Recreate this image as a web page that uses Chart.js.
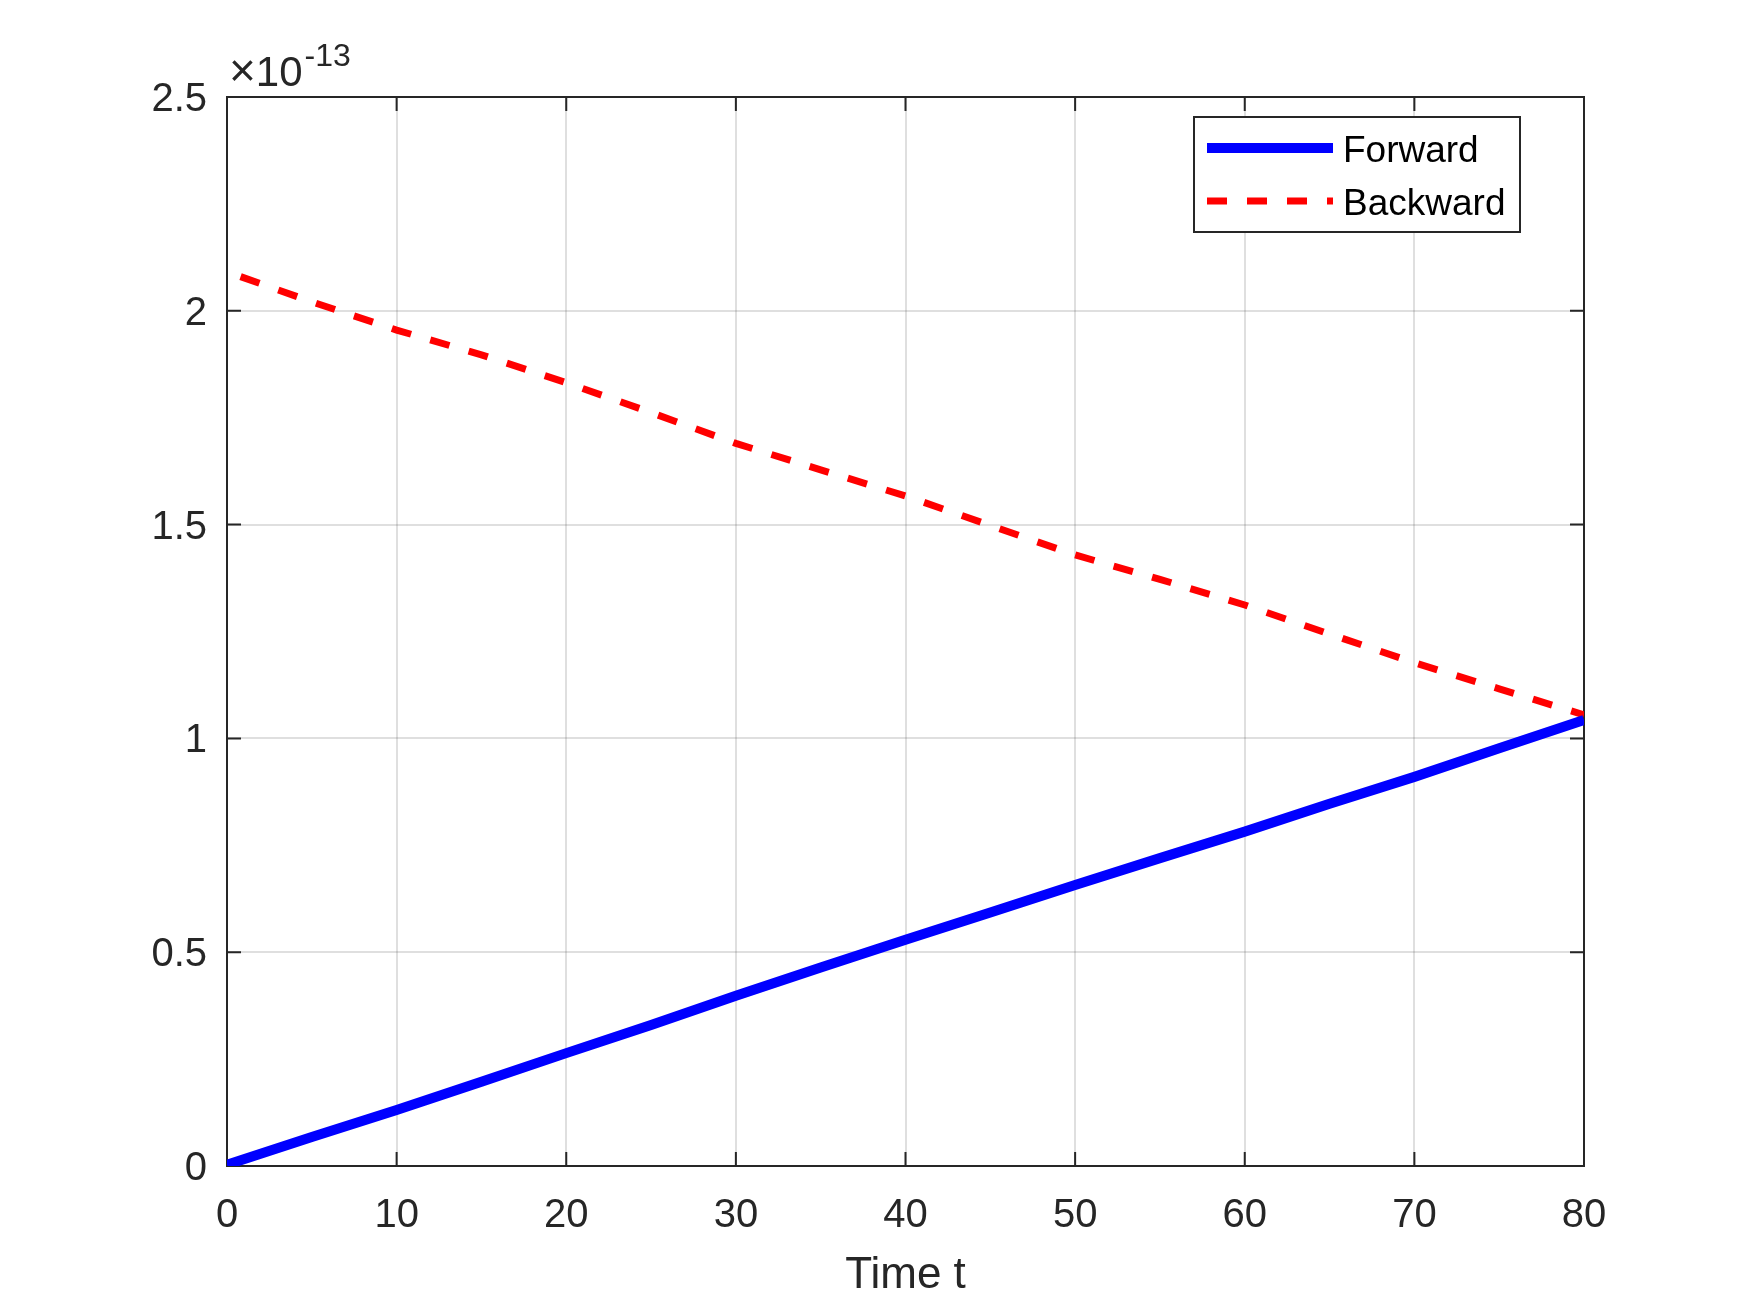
<!DOCTYPE html>
<html>
<head>
<meta charset="utf-8">
<title>Forward / Backward</title>
<script src="https://cdn.jsdelivr.net/npm/chart.js@4.4.1/dist/chart.umd.min.js"></script>
<style>
    html, body { margin: 0; padding: 0; background: #fff; }
    canvas { display: block; }
</style>
</head>
<body>
<canvas id="chart" width="1750" height="1289"></canvas>
<script>
// values in units of 1e-13
const tForward = [0, 5, 10, 15, 20, 25, 30, 35, 40, 45, 50, 55, 60, 65, 70, 75, 80]
const forward = [0.003, 0.068, 0.131, 0.197, 0.264, 0.330, 0.398, 0.464, 0.529, 0.593, 0.657, 0.720, 0.782, 0.847, 0.910, 0.977, 1.043]

const tBackward = [0.8, 5, 10, 15, 20, 25, 30, 35, 40, 45, 50, 55, 60, 65, 70, 75, 80]
const backward = [2.080, 2.021, 1.955, 1.897, 1.832, 1.762, 1.690, 1.628, 1.567, 1.498, 1.429, 1.372, 1.312, 1.244, 1.177, 1.116, 1.055]

const xTicks = [0, 10, 20, 30, 40, 50, 60, 70, 80]
const yTicks = [0, 0.5, 1, 1.5, 2, 2.5]
const exponent = '-13'

const FONT = '"Liberation Sans", Arial, Helvetica, sans-serif'
const AXIS = '#262626'
const GRID = 'rgba(38,38,38,0.15)'

const points = (ts, ys) => ts.map((t, i) => ({ x: t, y: ys[i] }))

// matlab style box with inward ticks, drawn under the lines
const boxPlugin = {
    id: 'box',
    beforeDatasetsDraw: chart => {
        const { ctx, chartArea: a, scales: { x, y } } = chart
        const len = 14
        ctx.save()
        ctx.strokeStyle = AXIS
        ctx.lineWidth = 2
        ctx.strokeRect(a.left, a.top, a.right - a.left, a.bottom - a.top)
        ctx.beginPath()
        xTicks.forEach(v => {
            const px = x.getPixelForValue(v)
            ctx.moveTo(px, a.bottom); ctx.lineTo(px, a.bottom - len)
            ctx.moveTo(px, a.top); ctx.lineTo(px, a.top + len)
        })
        yTicks.forEach(v => {
            const py = y.getPixelForValue(v)
            ctx.moveTo(a.left, py); ctx.lineTo(a.left + len, py)
            ctx.moveTo(a.right, py); ctx.lineTo(a.right - len, py)
        })
        ctx.stroke()
        ctx.restore()
    }
}

// the x10^-13 label above the y axis
const exponentPlugin = {
    id: 'exponent',
    afterDraw: chart => {
        const { ctx, chartArea: a } = chart
        ctx.save()
        ctx.fillStyle = AXIS
        ctx.textBaseline = 'alphabetic'
        ctx.textAlign = 'left'
        ctx.font = `46px ${FONT}`
        ctx.fillText('\u00d7', a.left + 2, a.top - 11)
        const wx = ctx.measureText('\u00d7').width
        ctx.font = `42px ${FONT}`
        ctx.fillText('10', a.left + 2 + wx, a.top - 11)
        const w = wx + ctx.measureText('10').width
        ctx.font = `32px ${FONT}`
        ctx.fillText(exponent, a.left + 4 + w, a.top - 31)
        ctx.restore()
    }
}

// legend box in the upper right of the axes
const legendPlugin = {
    id: 'boxLegend',
    afterDraw: chart => {
        const { ctx, chartArea: a } = chart
        const sets = chart.data.datasets
        const left = a.right - 390
        const top = a.top + 20
        const width = 326
        const height = 115
        ctx.save()
        ctx.fillStyle = '#fff'
        ctx.fillRect(left, top, width, height)
        ctx.strokeStyle = AXIS
        ctx.lineWidth = 2
        ctx.strokeRect(left, top, width, height)
        sets.forEach((ds, i) => {
            const cy = top + 31 + i * 53
            ctx.beginPath()
            ctx.strokeStyle = ds.borderColor
            ctx.lineWidth = ds.borderWidth
            ctx.setLineDash(ds.borderDash || [])
            ctx.moveTo(left + 13, cy)
            ctx.lineTo(left + 139, cy)
            ctx.stroke()
            ctx.setLineDash([])
            ctx.fillStyle = '#000'
            ctx.font = `37px ${FONT}`
            ctx.textBaseline = 'middle'
            ctx.fillText(ds.label, left + 149, cy + 4)
        })
        ctx.restore()
    }
}

const tickFont = { family: FONT, size: 40 }

new Chart(document.getElementById('chart'), {
    type: 'line',
    data: {
        datasets: [
            {
                label: 'Forward',
                data: points(tForward, forward),
                borderColor: '#0000ff',
                borderWidth: 10,
                borderJoinStyle: 'round',
                pointRadius: 0,
                fill: false
            },
            {
                label: 'Backward',
                data: points(tBackward, backward),
                borderColor: '#ff0000',
                borderWidth: 7,
                borderDash: [20, 20],
                pointRadius: 0,
                fill: false
            }
        ]
    },
    options: {
        responsive: false,
        animation: false,
        devicePixelRatio: 1,
        layout: { padding: { left: 137, right: 166, top: 97, bottom: -8 } },
        plugins: {
            legend: { display: false },
            tooltip: { enabled: false }
        },
        scales: {
            x: {
                type: 'linear',
                min: 0,
                max: 80,
                afterBuildTicks: s => { s.ticks = xTicks.map(v => ({ value: v })) },
                afterFit: s => { s.height = 131 },
                ticks: { color: AXIS, font: tickFont, padding: 26, maxRotation: 0, autoSkip: false, callback: v => String(v) },
                grid: { color: GRID, lineWidth: 2, drawTicks: false },
                border: { display: false },
                title: {
                    display: true,
                    text: 'Time t',
                    color: AXIS,
                    font: { family: FONT, size: 44 },
                    padding: { top: 0, bottom: -5 }
                }
            },
            y: {
                type: 'linear',
                min: 0,
                max: 2.5,
                afterBuildTicks: s => { s.ticks = yTicks.map(v => ({ value: v })) },
                afterFit: s => { s.width = 90 },
                ticks: { color: AXIS, font: tickFont, padding: 20, labelOffset: 3, callback: v => String(v) },
                grid: { color: GRID, lineWidth: 2, drawTicks: false },
                border: { display: false }
            }
        }
    },
    plugins: [boxPlugin, exponentPlugin, legendPlugin]
})
</script>
</body>
</html>
